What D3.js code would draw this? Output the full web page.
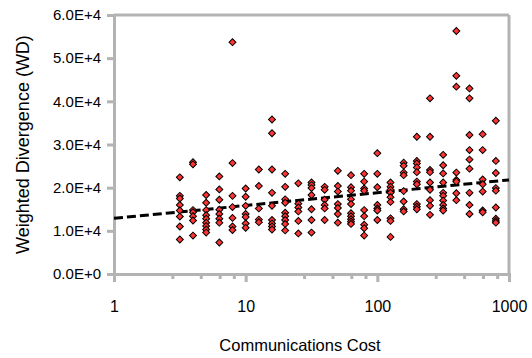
<!DOCTYPE html>
<html>
<head>
<meta charset="utf-8">
<script src="https://cdn.jsdelivr.net/npm/d3@7"></script>
<style>
  body { margin: 0; background: #fff; }
  text { font-family: "Liberation Sans", Arial, Helvetica, sans-serif; fill: #000; }
</style>
</head>
<body>
<svg id="chart"></svg>
<script>
// x positions: one column per 0.1 decade, 10^0.5 .. 10^2.9
let costExponents = [0.5, 0.6, 0.7, 0.8, 0.9, 1.0, 1.1, 1.2, 1.3, 1.4, 1.5, 1.6, 1.7,
  1.8, 1.9, 2.0, 2.1, 2.2, 2.3, 2.4, 2.5, 2.6, 2.7, 2.8, 2.9];

// weighted divergence per column, in thousands
let divergence = [
  [22.4, 18.1, 17.5, 16.0, 14.7, 13.3, 11.0, 8.0],
  [25.9, 25.4, 14.8, 14.3, 13.4, 12.4, 8.9],
  [18.3, 16.5, 14.8, 13.6, 12.8, 11.9, 11.1, 10.3, 9.6],
  [22.6, 19.6, 17.2, 14.9, 13.9, 12.8, 11.9, 7.3],
  [53.7, 25.7, 18.1, 15.5, 13.0, 11.0, 10.2],
  [19.8, 17.9, 15.8, 13.9, 13.2, 11.7, 10.7],
  [24.2, 20.4, 15.2, 12.6, 12.0],
  [35.8, 32.6, 24.2, 18.8, 15.8, 12.5, 11.7, 11.0, 10.3],
  [23.2, 20.2, 17.3, 16.5, 14.2, 13.4, 12.5, 11.6, 10.1],
  [21.0, 16.3, 15.4, 14.5, 12.3, 9.4],
  [21.2, 20.6, 19.9, 18.3, 15.0, 12.5, 9.6],
  [20.2, 19.5, 17.2, 16.0, 15.2, 12.5],
  [23.9, 20.4, 19.1, 16.2, 15.3, 13.9, 11.9],
  [22.9, 20.1, 19.3, 17.3, 16.2, 14.1, 13.4, 12.7, 12.1, 11.6],
  [23.2, 21.4, 19.8, 19.3, 14.8, 13.4, 11.4, 10.6, 8.9],
  [28.0, 23.2, 20.1, 16.0, 15.2, 14.7, 12.5],
  [21.2, 20.2, 19.5, 18.8, 17.8, 16.7, 12.9, 12.3, 8.6],
  [25.8, 25.1, 23.5, 22.9, 19.2, 16.8, 15.0, 14.5],
  [31.8, 26.2, 25.6, 24.7, 23.6, 21.4, 20.8, 16.2, 15.6, 15.0],
  [40.7, 31.8, 24.1, 23.6, 21.2, 19.5, 17.1, 15.8, 13.7],
  [27.6, 25.2, 23.3, 21.2, 18.8, 18.1, 17.0, 16.0, 15.2, 14.7],
  [56.3, 45.9, 43.4, 23.5, 21.8, 21.4, 18.7, 17.1],
  [43.0, 40.7, 32.2, 28.7, 26.5, 24.4, 18.8, 16.0, 13.9],
  [32.4, 28.7, 21.9, 20.8, 19.1, 14.7, 14.3],
  [35.5, 26.2, 23.4, 19.9, 19.3, 15.4, 12.8, 12.3, 11.9]
];

// trend line end points
let trendX = [1, 1000];
let trendY = [12900, 21800];

let xMajorTicks = [1, 10, 100, 1000];
let xMinorTicks = [2.8, 4.6, 6.4, 8.2, 28, 46, 64, 82, 280, 460, 640, 820];
let yTicks = [0, 10000, 20000, 30000, 40000, 50000, 60000];

// flatten columns into points
let points = [];
costExponents.forEach((e, i) => {
  divergence[i].forEach(v => points.push({ cost: Math.pow(10, e), wd: v * 1000 }));
});

// set graph dimensions
let width = 532, height = 358;
let margin = { top: 15, right: 23, bottom: 84, left: 114 };
let innerW = width - margin.left - margin.right;
let innerH = height - margin.top - margin.bottom;

let svg = d3.select('#chart')
  .attr('width', width)
  .attr('height', height);

let g = svg.append('g')
  .attr('transform', `translate(${margin.left}, ${margin.top})`);

// set the ranges
let x = d3.scaleLog().domain([1, 1000]).range([0, innerW]);
let y = d3.scaleLinear().domain([0, 60000]).range([innerH, 0]);

let grey = '#b3b3b3';

// frame: top and right
g.append('line')
  .attr('x1', 0).attr('x2', innerW).attr('y1', 0).attr('y2', 0)
  .attr('stroke', grey).attr('stroke-width', 3);
g.append('line')
  .attr('x1', innerW).attr('x2', innerW).attr('y1', 0).attr('y2', innerH)
  .attr('stroke', grey).attr('stroke-width', 3);

// add Y axis
let yAxis = g.append('g')
  .call(d3.axisLeft(y).tickValues(yTicks).tickSize(7).tickPadding(6)
    .tickFormat(d => d === 0 ? '0.0E+0' : (d / 10000).toFixed(1) + 'E+4'));
yAxis.select('.domain').attr('stroke', grey).attr('stroke-width', 3);
yAxis.selectAll('.tick line').attr('stroke', grey).attr('stroke-width', 3);
yAxis.selectAll('text').style('font-size', '15px');

// add X axis
let xAxis = g.append('g')
  .attr('transform', `translate(0, ${innerH})`)
  .call(d3.axisBottom(x).tickValues(xMajorTicks).tickSize(8).tickPadding(19)
    .tickFormat(d3.format('d')));
xAxis.select('.domain').attr('stroke', grey).attr('stroke-width', 3);
xAxis.selectAll('.tick line').attr('stroke', grey).attr('stroke-width', 3);
xAxis.selectAll('text').style('font-size', '16px');

// minor x ticks
g.append('g')
  .selectAll('line')
  .data(xMinorTicks)
  .join('line')
  .attr('x1', d => x(d)).attr('x2', d => x(d))
  .attr('y1', innerH).attr('y2', innerH + 5)
  .attr('stroke', grey).attr('stroke-width', 3);

// trend line
let line = d3.line()
  .x(d => x(d[0]))
  .y(d => y(d[1]));
g.append('path')
  .datum(d3.zip(trendX, trendY))
  .attr('fill', 'none')
  .attr('stroke', '#000')
  .attr('stroke-width', 3)
  .attr('stroke-dasharray', '9,4')
  .attr('d', line);

// points as diamonds
let diamond = d3.symbol().type(d3.symbolSquare).size(24);
g.append('g')
  .selectAll('path')
  .data(points)
  .join('path')
  .attr('d', diamond)
  .attr('transform', d => `translate(${x(d.cost)}, ${y(d.wd)}) rotate(45)`)
  .attr('fill', '#ff3333')
  .attr('stroke', '#000')
  .attr('stroke-width', 1);

// axis titles
svg.append('text')
  .attr('x', 300)
  .attr('y', 351)
  .attr('text-anchor', 'middle')
  .style('font-size', '16.5px')
  .text('Communications Cost');

svg.append('text')
  .attr('transform', `translate(29, ${margin.top + innerH / 2}) rotate(-90)`)
  .attr('text-anchor', 'middle')
  .style('font-size', '18px')
  .text('Weighted Divergence (WD)');
</script>
</body>
</html>
